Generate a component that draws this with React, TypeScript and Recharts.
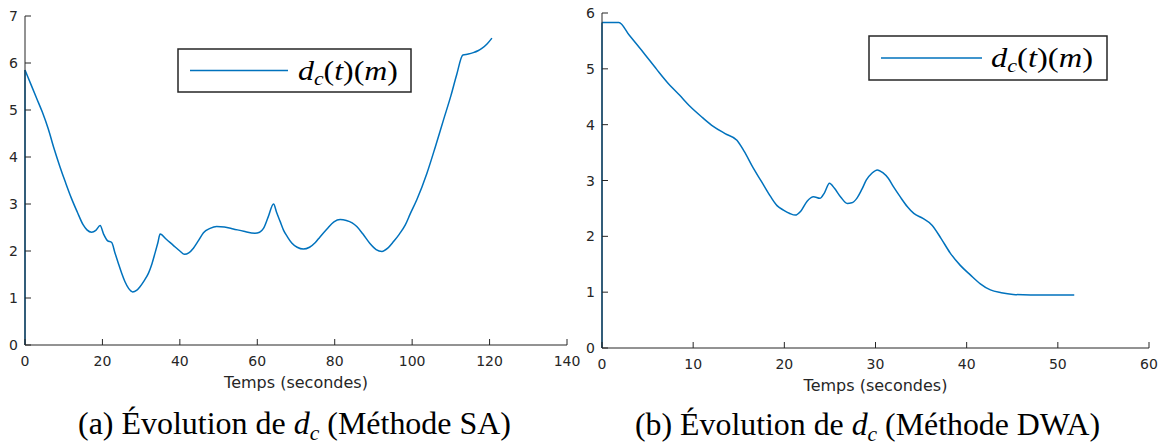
import { LineChart, Line, XAxis, YAxis, Legend } from "recharts"

const BLUE = "#0072BD"
const AXIS = "#262626"

// (a) Méthode SA
const saTime = [0, 0, 1.5, 3, 4.5, 6, 7.5, 9, 10.5, 12, 13.5, 15, 16, 17.2, 18.3, 19.4, 20.3, 21.3, 22.4, 23.2, 24.1, 25, 25.8, 26.8, 27.8, 28.8, 29.7, 30.8, 31.9, 32.8, 33.6, 34.3, 34.9, 36.5, 38.3, 40, 41.2, 42.3, 43.5, 44.8, 46.1, 47.8, 49.5, 51.5, 53.8, 56.5, 59.4, 60.6, 61.6, 62.8, 64.2, 65, 65.9, 66.8, 67.8, 68.9, 70.3, 71.9, 73.5, 75, 76.2, 78, 79.8, 81.4, 83, 84.5, 85.7, 87.3, 89.1, 90.7, 92.2, 93.7, 95.2, 96.7, 98.2, 99.5, 101.2, 103.8, 106, 108.1, 110, 111.5, 113.1, 114.5, 115.8, 117, 118, 119.4, 120.6]
const saDist = [0, 5.85, 5.55, 5.25, 4.95, 4.6, 4.18, 3.8, 3.45, 3.12, 2.83, 2.56, 2.45, 2.4, 2.44, 2.54, 2.36, 2.22, 2.18, 1.97, 1.74, 1.52, 1.35, 1.2, 1.13, 1.16, 1.24, 1.37, 1.53, 1.73, 1.96, 2.17, 2.36, 2.25, 2.12, 2.0, 1.93, 1.96, 2.06, 2.22, 2.39, 2.48, 2.52, 2.51, 2.47, 2.42, 2.38, 2.4, 2.48, 2.72, 3.0, 2.82, 2.63, 2.44, 2.3, 2.17, 2.08, 2.04, 2.08, 2.18, 2.3, 2.47, 2.62, 2.67, 2.65, 2.6, 2.52, 2.36, 2.16, 2.03, 1.99, 2.06, 2.2, 2.36, 2.55, 2.79, 3.09, 3.65, 4.22, 4.79, 5.3, 5.75, 6.17, 6.19, 6.22, 6.26, 6.31, 6.41, 6.53]

// (b) Méthode DWA
const dwaTime = [0, 0, 1.85, 3, 4.6, 6, 7.1, 8.5, 9.7, 11, 12.2, 13.5, 14.8, 15.6, 16.6, 17.5, 18.5, 19.2, 19.9, 20.6, 21.2, 21.8, 22.5, 23.2, 23.9, 24.4, 24.95, 25.5, 26.2, 26.9, 27.4, 27.95, 28.5, 29, 29.6, 30.2, 30.8, 31.4, 32, 32.7, 33.5, 34.2, 35.2, 36.2, 37.2, 38.2, 39.3, 40.4, 41.5, 42.6, 43.8, 45.1, 47, 49, 51.8]
const dwaDist = [0, 5.83, 5.83, 5.6, 5.28, 4.99, 4.77, 4.53, 4.32, 4.13, 3.97, 3.84, 3.72, 3.52, 3.22, 2.98, 2.71, 2.55, 2.47, 2.41, 2.38, 2.45, 2.63, 2.71, 2.68, 2.78, 2.95, 2.86, 2.7, 2.59, 2.6, 2.68, 2.84, 3.01, 3.13, 3.19, 3.14, 3.04, 2.88, 2.71, 2.53, 2.41, 2.32, 2.2, 1.96, 1.7, 1.48, 1.31, 1.15, 1.04, 0.99, 0.96, 0.95, 0.95, 0.95]

const saXTicks = [0, 20, 40, 60, 80, 100, 120, 140]
const saYTicks = [0, 1, 2, 3, 4, 5, 6, 7]
const dwaXTicks = [0, 10, 20, 30, 40, 50, 60]
const dwaYTicks = [0, 1, 2, 3, 4, 5, 6]

const saData = saTime.map((t, i) => ({ t, d: saDist[i] }))
const dwaData = dwaTime.map((t, i) => ({ t, d: dwaDist[i] }))
// le saut vertical à t=0 est tracé à part (monotone n'aime pas deux x égaux)
const saLead = saData.slice(0, 2)
const saMain = saData.slice(1)
const dwaLead = dwaData.slice(0, 2)
const dwaMain = dwaData.slice(1)

const XTick = (p: any) => (
	<g>
		<line x1={p.x} x2={p.x} y1={p.y} y2={p.y - 6} stroke={AXIS} />
		<text x={p.x} y={p.y + 21} textAnchor="middle" fontSize={14} fill={AXIS} fontFamily="DejaVu Sans">{p.payload.value}</text>
	</g>
)

const YTick = (p: any) => (
	<g>
		<line x1={p.x} x2={p.x + 6} y1={p.y} y2={p.y} stroke={AXIS} />
		<text x={p.x - 7} y={p.y + 5} textAnchor="end" fontSize={14} fill={AXIS} fontFamily="DejaVu Sans">{p.payload.value}</text>
	</g>
)

function legendBox(w: number, h: number, lineEnd: number, textX: number, textW: number) {
	return () => (
		<svg width={w} height={h} style={{ display: "block" }}>
			<rect x={1} y={1} width={w - 2} height={h - 2} fill="#fff" stroke={AXIS} strokeWidth={1.5} />
			<line x1={13} x2={lineEnd} y1={h / 2} y2={h / 2} stroke={BLUE} strokeWidth={1.5} />
			<text x={textX} y={h / 2 + 9} fontFamily="Liberation Serif" fontSize={28} fill="#000" textLength={textW} lengthAdjust="spacingAndGlyphs">
				<tspan fontStyle="italic">d</tspan>
				<tspan fontStyle="italic" fontSize={19} dy={5}>c</tspan>
				<tspan dy={-5}>(</tspan>
				<tspan fontStyle="italic">t</tspan>
				<tspan>)(</tspan>
				<tspan fontStyle="italic">m</tspan>
				<tspan>)</tspan>
			</text>
		</svg>
	)
}

const axisLabel = { value: "Temps (secondes)", position: "insideBottom" as const, offset: 12, fontSize: 16, fill: AXIS, fontFamily: "DejaVu Sans" }

export default function App() {
	return (
		<div style={{ position: "absolute", left: 0, top: 0, width: 1169, height: 448, background: "#fff" }}>

			{/* (a) SA */}
			<div style={{ position: "absolute", left: 0, top: 0 }}>
				<LineChart width={585} height={400} margin={{ top: 16, right: 18, bottom: 0, left: 0 }}>
					<XAxis dataKey="t" type="number" domain={[0, 140]} ticks={saXTicks} interval={0} height={55}
						axisLine={{ stroke: AXIS }} tickLine={false} tickSize={0} tickMargin={0} tick={XTick} label={axisLabel} />
					<YAxis type="number" domain={[0, 7]} ticks={saYTicks} interval={0} width={25}
						axisLine={{ stroke: AXIS }} tickLine={false} tickSize={0} tickMargin={0} tick={YTick} />
					<Legend layout="horizontal" verticalAlign="middle" align="center"
						wrapperStyle={{ left: 177, top: 48, width: 235, height: 45 }}
						content={legendBox(235, 45, 111, 121, 100)} />
					<Line data={saLead} type="linear" dataKey="d" stroke={BLUE} strokeWidth={1.5} dot={false} isAnimationActive={false} legendType="none" />
					<Line data={saMain} type="monotone" dataKey="d" stroke={BLUE} strokeWidth={1.5} dot={false} isAnimationActive={false} />
				</LineChart>
			</div>

			{/* (b) DWA */}
			<div style={{ position: "absolute", left: 580, top: 0 }}>
				<LineChart width={585} height={403} margin={{ top: 13, right: 16, bottom: 0, left: 0 }}>
					<XAxis dataKey="t" type="number" domain={[0, 60]} ticks={dwaXTicks} interval={0} height={55}
						axisLine={{ stroke: AXIS }} tickLine={false} tickSize={0} tickMargin={0} tick={XTick} label={axisLabel} />
					<YAxis type="number" domain={[0, 6]} ticks={dwaYTicks} interval={0} width={22}
						axisLine={{ stroke: AXIS }} tickLine={false} tickSize={0} tickMargin={0} tick={YTick} />
					<Legend layout="horizontal" verticalAlign="middle" align="center"
						wrapperStyle={{ left: 288, top: 35, width: 240, height: 46 }}
						content={legendBox(240, 46, 114, 123, 102)} />
					<Line data={dwaLead} type="linear" dataKey="d" stroke={BLUE} strokeWidth={1.5} dot={false} isAnimationActive={false} legendType="none" />
					<Line data={dwaMain} type="monotone" dataKey="d" stroke={BLUE} strokeWidth={1.5} dot={false} isAnimationActive={false} />
				</LineChart>
			</div>

			{/* sous-titres */}
			<svg width={1169} height={448} style={{ position: "absolute", left: 0, top: 0, pointerEvents: "none" }}>
				<text x={78} y={433.5} fontFamily="Liberation Serif" fontSize={31} fill="#000" textLength={433} lengthAdjust="spacingAndGlyphs">
					(a) Évolution de <tspan fontStyle="italic">d</tspan><tspan fontStyle="italic" fontSize={21} dy={6}>c</tspan><tspan dy={-6}> (Méthode SA)</tspan>
				</text>
				<text x={635} y={434.5} fontFamily="Liberation Serif" fontSize={31} fill="#000" textLength={465} lengthAdjust="spacingAndGlyphs">
					(b) Évolution de <tspan fontStyle="italic">d</tspan><tspan fontStyle="italic" fontSize={21} dy={6}>c</tspan><tspan dy={-6}> (Méthode DWA)</tspan>
				</text>
			</svg>
		</div>
	)
}
